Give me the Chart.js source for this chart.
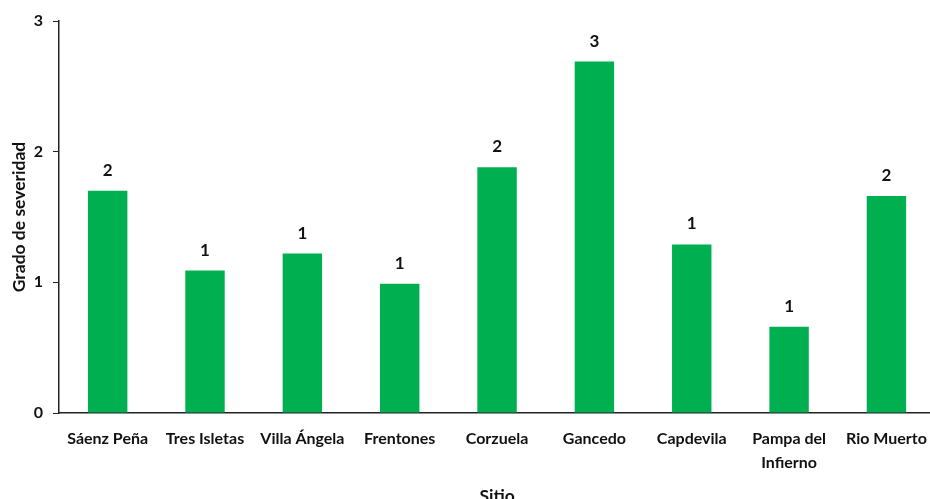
<!DOCTYPE html>
<html>
<head>
<meta charset="utf-8">
<script src="https://cdn.jsdelivr.net/npm/chart.js@4/dist/chart.umd.min.js"></script>
<style>
  html, body { margin: 0; padding: 0; background: #fff; overflow: hidden; }
  #wrap { width: 940px; height: 499px; }
</style>
</head>
<body>
<div id="wrap"><canvas id="severityChart" width="940" height="499"></canvas></div>
<script>
// sitios y grado de severidad promedio
const sitios = ['Sáenz Peña', 'Tres Isletas', 'Villa Ángela', 'Frentones', 'Corzuela',
    'Gancedo', 'Capdevila', ['Pampa del', 'Infierno'], 'Rio Muerto'];
const severidad = [1.70, 1.09, 1.22, 0.99, 1.88, 2.69, 1.29, 0.66, 1.66];
const yTicks = [0, 1, 2, 3];

const textColor = '#111';
const fontFamily = 'Lato, "Open Sans", sans-serif';

// valor redondeado sobre cada barra
const barValues = {
    id: 'barValues',
    afterDatasetsDraw(chart) {
        const ctx = chart.ctx;
        const meta = chart.getDatasetMeta(0);
        ctx.save();
        ctx.font = 'bold 17px ' + fontFamily;
        ctx.fillStyle = textColor;
        ctx.textAlign = 'center';
        ctx.textBaseline = 'alphabetic';
        meta.data.forEach((bar, i) => {
            ctx.fillText(Math.round(severidad[i]), bar.x, bar.y - 15);
        });
        ctx.restore();
    }
};

// titulos de los ejes
const axisTitles = {
    id: 'axisTitles',
    afterDraw(chart) {
        const ctx = chart.ctx;
        const area = chart.chartArea;
        ctx.save();
        ctx.font = 'bold 17.5px ' + fontFamily;
        ctx.fillStyle = textColor;
        ctx.textAlign = 'center';
        ctx.textBaseline = 'middle';
        ctx.fillText('Sitio', (area.left + area.right) / 2, area.bottom + 83);
        ctx.translate(area.left - 40, (area.top + area.bottom) / 2);
        ctx.rotate(-Math.PI / 2);
        ctx.fillText('Grado de severidad', 0, 0);
        ctx.restore();
    }
};

const ctx = document.getElementById('severityChart').getContext('2d');

const severityChart = new Chart(ctx, {
    type: 'bar',
    data: {
        labels: sitios,
        datasets: [{
            data: severidad,
            backgroundColor: '#00B050',
            borderWidth: 0,
            categoryPercentage: 1,
            barPercentage: 0.405
        }]
    },
    options: {
        responsive: false,
        devicePixelRatio: 1,
        animation: false,
        layout: { padding: { top: 21, right: 2, left: 0, bottom: 0 } },
        plugins: {
            legend: { display: false },
            tooltip: { enabled: false }
        },
        scales: {
            x: {
                grid: { display: false, drawTicks: false },
                border: { display: true, color: '#222', width: 1.5 },
                ticks: {
                    color: textColor,
                    padding: 13,
                    maxRotation: 0,
                    autoSkip: false,
                    font: { family: fontFamily, size: 16, weight: 'bold', lineHeight: 1.55 }
                },
                afterFit(scale) { scale.height = 86; }
            },
            y: {
                min: 0,
                max: 3,
                afterBuildTicks(scale) { scale.ticks = yTicks.map(v => ({ value: v })); },
                grid: { drawOnChartArea: false, drawTicks: true, tickLength: 6, color: '#222' },
                border: { display: true, color: '#222', width: 1.5 },
                ticks: {
                    color: textColor,
                    padding: 10,
                    font: { family: fontFamily, size: 16, weight: 'bold' }
                },
                afterFit(scale) { scale.width = 59; }
            }
        }
    },
    plugins: [barValues, axisTitles]
});
</script>
</body>
</html>
